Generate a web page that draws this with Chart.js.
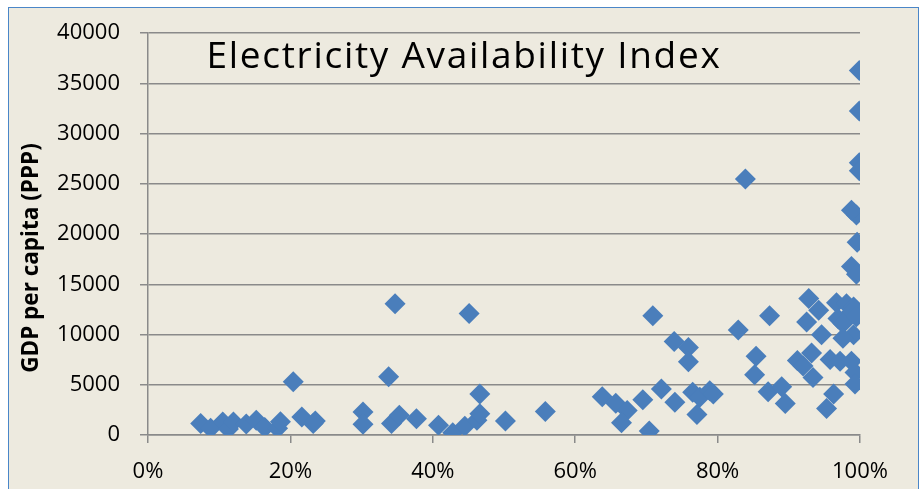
<!DOCTYPE html>
<html>
<head>
<meta charset="utf-8">
<script src="https://cdn.jsdelivr.net/npm/chart.js@4/dist/chart.umd.min.js"></script>
<style>
  html, body { margin: 0; padding: 0; background: #ffffff; overflow: hidden; }
  #wrap { position: relative; width: 922px; height: 489px; }
  canvas { display: block; }
</style>
</head>
<body>
<div id="wrap"><canvas id="c" width="922" height="489"></canvas></div>
<script>
// ---- data ----
const chartTitle = 'Electricity Availability Index';
const yAxisTitle = 'GDP per capita (PPP)';
const xTickValues = [0, 20, 40, 60, 80, 100];
const yTickValues = [0, 5000, 10000, 15000, 20000, 25000, 30000, 35000, 40000];

// electricity availability (%)
const electricityPct = [
  7.4, 8.8, 10.5, 11.3, 12.0, 13.8, 15.2, 16.4, 18.2, 18.6,
  20.4, 21.6, 23.2, 23.5,
  30.2, 30.2, 33.8, 34.7, 34.2, 35.3, 37.7, 40.8, 42.8, 44.5,
  45.1, 46.2, 46.6, 46.6, 50.2, 55.8,
  63.8, 65.7, 67.3, 66.5, 69.5, 70.4, 70.9, 72.1, 73.9, 74.0,
  75.9, 75.9, 76.5, 77.5, 77.1, 78.9, 79.4,
  82.9, 83.9, 87.3, 85.4, 85.2, 87.1, 89.0, 89.5,
  92.8, 94.2, 92.5, 94.6, 91.2, 92.0, 93.2, 93.4, 95.8,
  96.7, 98.1, 99.1, 98.6, 96.9, 97.6, 99.5, 99.1, 97.6,
  97.2, 98.8, 99.3, 99.3, 96.3, 95.3,
  99.9, 99.9, 99.5, 98.8, 99.6, 98.8, 99.5, 99.9, 99.9
];
// GDP per capita (PPP)
const gdpPerCapita = [
  1150, 660, 1300, 600, 1300, 1100, 1470, 740, 660, 1330,
  5300, 1790, 1150, 1400,
  2280, 1080, 5800, 13070, 1150, 1960, 1630, 980, 230, 880,
  12100, 1470, 2120, 4090, 1400, 2350,
  3800, 3150, 2450, 1230, 3500, 390, 11860, 4580, 9310, 3270,
  8720, 7280, 4250, 3760, 2030, 4410, 4090,
  10460, 25490, 11860, 7840, 6000, 4300, 4800, 3140,
  13600, 12420, 11240, 9970, 7420, 6860, 8170, 5720, 7520,
  13170, 13070, 12750, 12090, 11600, 11110, 11760, 9970, 9640,
  7350, 7350, 6210, 5070, 4090, 2650,
  27100, 26300, 21890, 22380, 19180, 16770, 16010, 36280, 32260
];

const points = electricityPct.map((x, i) => ({ x: x, y: gdpPerCapita[i] }));

const FONT = '"Open Sans", "Liberation Sans", sans-serif';
const GRID = '#8a8a8a';

const frame = {
  id: 'frame',
  beforeDraw(chart) {
    const ctx = chart.ctx;
    ctx.save();
    ctx.fillStyle = '#ffffff';
    ctx.fillRect(0, 0, chart.width, chart.height);
    ctx.fillStyle = '#EDEADF';
    ctx.fillRect(8.5, 7.5, 910, 500);
    ctx.strokeStyle = '#4A86C8';
    ctx.lineWidth = 1;
    ctx.strokeRect(8.5, 7.5, 910, 500);
    ctx.restore();
  }
};

const texts = {
  id: 'texts',
  beforeDatasetsDraw(chart) {
    const ctx = chart.ctx;
    ctx.save();
    ctx.font = '37px ' + FONT;
    ctx.fillStyle = '#000000';
    ctx.textAlign = 'center';
    ctx.textBaseline = 'alphabetic';
    if ('letterSpacing' in ctx) ctx.letterSpacing = '1.7px';
    ctx.fillText(chartTitle, 464, 68);
    if ('letterSpacing' in ctx) ctx.letterSpacing = '0px';
    ctx.translate(32, 258);
    ctx.rotate(-Math.PI / 2);
    ctx.font = 'bold 22.5px ' + FONT;
    ctx.textBaseline = 'middle';
    ctx.fillText(yAxisTitle, 0, 0);
    ctx.restore();
  }
};

new Chart(document.getElementById('c'), {
  type: 'scatter',
  data: {
    datasets: [{
      label: 'GDP per capita',
      data: points,
      pointStyle: 'rectRot',
      pointRadius: 10.5,
      pointHoverRadius: 10.5,
      backgroundColor: '#4A7EBB',
      borderColor: '#4A7EBB',
      borderWidth: 0
    }]
  },
  options: {
    responsive: false,
    animation: false,
    devicePixelRatio: 1,
    layout: { padding: { left: 0, right: 62, top: 27, bottom: 0 } },
    plugins: {
      legend: { display: false },
      title: { display: false },
      tooltip: { enabled: false }
    },
    scales: {
      x: {
        type: 'linear',
        min: 0, max: 100,
        afterBuildTicks(scale) { scale.ticks = xTickValues.map(v => ({ value: v })); },
        afterFit(scale) { scale.height = 489 - 435; },
        ticks: {
          color: '#000',
          font: { family: FONT, size: 22 },
          padding: 16,
          maxRotation: 0,
          callback: v => v + '%'
        },
        grid: { drawOnChartArea: false, drawTicks: true, tickLength: 8, color: GRID, lineWidth: 1.5 },
        border: { display: true, color: GRID, width: 1.5 }
      },
      y: {
        type: 'linear',
        min: 0, max: 40000,
        afterBuildTicks(scale) { scale.ticks = yTickValues.map(v => ({ value: v })); },
        afterFit(scale) { scale.width = 148; },
        ticks: {
          color: '#000',
          font: { family: FONT, size: 22 },
          padding: 20,
          callback: v => String(v)
        },
        title: { display: false },
        grid: { drawOnChartArea: true, drawTicks: true, tickLength: 8, color: GRID, lineWidth: 1.5 },
        border: { display: true, color: GRID, width: 1.5 }
      }
    }
  },
  plugins: [frame, texts]
});
</script>
</body>
</html>
